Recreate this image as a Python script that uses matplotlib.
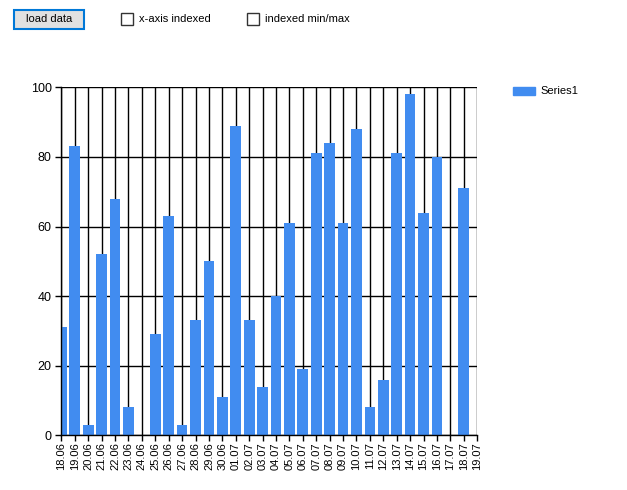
import numpy as np
import matplotlib
matplotlib.use("Agg")
import matplotlib.pyplot as plt
from matplotlib.patches import Rectangle

plt.rcParams["font.family"] = ["Liberation Sans", "DejaVu Sans"]

# daily values, nan = no point that day
days = ["18.06", "19.06", "20.06", "21.06", "22.06", "23.06", "24.06", "25.06",
        "26.06", "27.06", "28.06", "29.06", "30.06", "01.07", "02.07", "03.07",
        "04.07", "05.07", "06.07", "07.07", "08.07", "09.07", "10.07", "11.07",
        "12.07", "13.07", "14.07", "15.07", "16.07", "17.07", "18.07", "19.07"]
values = [31, 83, 3, 52, 68, 8, np.nan, 29,
          63, 3, 33, 50, 11, 89, 33, 14,
          40, 61, 19, 81, 84, 61, 88, 8,
          16, 81, 98, 64, 80, np.nan, 71, np.nan]
yticks = [0, 20, 40, 60, 80, 100]
series_name = "Series1"
bar_color = "#418CF0"

fig = plt.figure(figsize=(6.27, 4.90), dpi=100, facecolor="white")
ax = fig.add_axes([0.098, 0.1116, 0.663, 0.7102])

x = np.arange(len(days))
ax.bar(x, values, width=0.8, color=bar_color, zorder=3, label=series_name)

ax.set_xlim(0, len(days) - 1)
ax.set_ylim(0, 100)
ax.set_xticks(x)
ax.set_xticklabels(days, rotation=90, fontsize=8)
ax.set_yticks(yticks)
ax.set_yticklabels([str(v) for v in yticks], fontsize=9)
ax.tick_params(length=4, width=1, color="black")
ax.tick_params(axis="x", pad=1)
ax.tick_params(axis="y", pad=3)
ax.grid(True, color="black", linewidth=1, zorder=1)
ax.set_axisbelow(True)
for side in ["top", "right"]:
    ax.spines[side].set_visible(False)
for side in ["left", "bottom"]:
    ax.spines[side].set_linewidth(1)
    ax.spines[side].set_zorder(4)

# legend drawn like the winforms chart one
W, H = 627, 490
def fx(px):
    return px / W
def fy(py):
    return 1 - py / H

fig.patches.append(Rectangle((fx(513), fy(95)), fx(22), 8 / H, transform=fig.transFigure,
                             color=bar_color))
fig.text(fx(540), fy(91), series_name, fontsize=8, va="center", ha="left")

# form controls above the chart
fig.patches.append(Rectangle((fx(14), fy(29)), fx(70), 19 / H, transform=fig.transFigure,
                             facecolor="#E1E1E1", edgecolor="#0078D7", linewidth=1.5))
fig.text(fx(49), fy(19.5), "load data", fontsize=8, va="center", ha="center")
for bx, label in [(121, "x-axis indexed"), (247, "indexed min/max")]:
    fig.patches.append(Rectangle((fx(bx), fy(25)), fx(12), 12 / H, transform=fig.transFigure,
                                 facecolor="white", edgecolor="#333333", linewidth=1))
    fig.text(fx(bx + 18), fy(19.5), label, fontsize=8, va="center", ha="left")

fig.savefig("out.png", dpi=100, facecolor="white")
